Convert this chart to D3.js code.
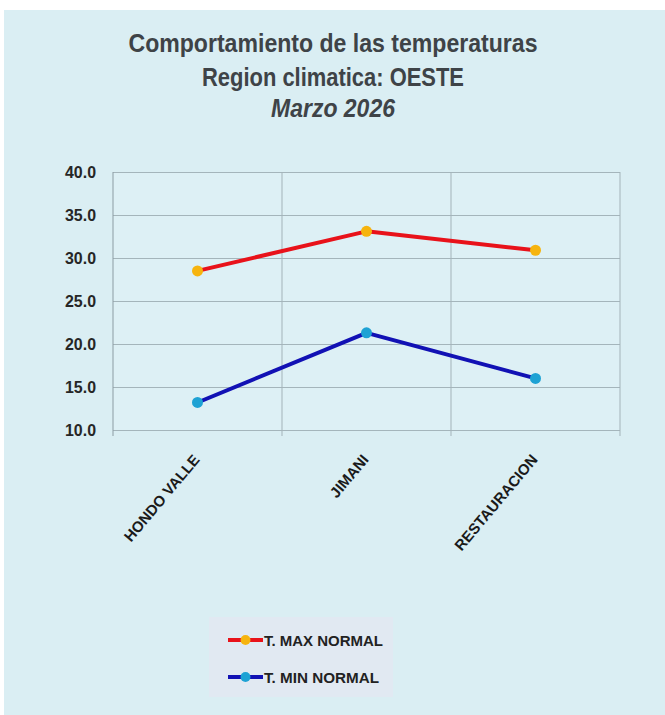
<!DOCTYPE html>
<meta charset="utf-8">
<script src="https://d3js.org/d3.v7.min.js"></script>
<style>
  body { margin: 0; background: #fff; }
  svg { display: block; }
  text { font-family: "Liberation Sans", Arial, sans-serif; }
</style>
<body>
<script>
"use strict"

// data
var stations = ["HONDO VALLE", "JIMANI", "RESTAURACION"]
var tMax = [28.5, 33.1, 30.9]
var tMin = [13.2, 21.3, 16.0]
var seriesNames = ["T. MAX NORMAL", "T. MIN NORMAL"]
var yTicks = [10, 15, 20, 25, 30, 35, 40]
var titleLines = ["Comportamiento de las temperaturas", "Region climatica: OESTE", "Marzo 2026"]

var W = 665, H = 715
var pLeft = 113, pRight = 620, pTop = 172, pBottom = 430

var svg = d3.select("body").append("svg")
    .attr("width", W)
    .attr("height", H)

// background panel
svg.append("rect")
    .attr("x", 4).attr("y", 10)
    .attr("width", W - 4).attr("height", H - 10)
    .attr("fill", "#daeef3")

svg.append("rect")
    .attr("x", pLeft).attr("y", pTop)
    .attr("width", pRight - pLeft).attr("height", pBottom - pTop)
    .attr("fill", "#ddf0f5")

// title (glyphs a bit taller than wide, as in the picture)
var titleWidths = [409, 262, 124]
var titleBase = [52, 86, 117]
var tt = svg.append("g").attr("fill", "#3e4347")
titleLines.forEach(function(t, i) {
    tt.append("text").attr("x", 333).attr("y", titleBase[i])
        .attr("text-anchor", "middle").attr("font-size", 26).attr("font-weight", "bold")
        .attr("font-style", i == 2 ? "italic" : "normal")
        .attr("textLength", titleWidths[i]).attr("lengthAdjust", "spacingAndGlyphs")
        .text(t)
})

var x = d3.scaleBand().domain(stations).range([pLeft, pRight])
var y = d3.scaleLinear().domain([10, 40]).range([pBottom, pTop])
var cx = function(d) { return x(d) + x.bandwidth() / 2 }

// horizontal gridlines
svg.append("g")
    .attr("transform", "translate(" + pLeft + ",0)")
    .call(d3.axisLeft(y).tickValues(yTicks).tickSize(-(pRight - pLeft)).tickFormat(""))
    .call(function(g) {
        g.select(".domain").remove()
        g.selectAll("line").attr("stroke", "#a4b5bb").attr("stroke-width", 1)
    })

// vertical gridlines on band edges
var edges = stations.map(function(d) { return x(d) }).concat([pRight])
svg.append("g").selectAll("line")
    .data(edges)
    .enter().append("line")
    .attr("x1", function(d) { return d }).attr("x2", function(d) { return d })
    .attr("y1", pTop).attr("y2", pBottom + 6)
    .attr("stroke", function(d, i) { return i == 0 ? "#8c9ca3" : "#a3b3b9" })
    .attr("stroke-width", 1)

// y labels
svg.append("g")
    .attr("transform", "translate(" + pLeft + ",0)")
    .call(d3.axisLeft(y).tickValues(yTicks).tickSize(0).tickPadding(17).tickFormat(d3.format(".1f")))
    .call(function(g) {
        g.select(".domain").remove()
        g.selectAll("text")
            .attr("font-family", "'Liberation Sans', Arial, sans-serif")
            .attr("font-size", 16).attr("font-weight", "bold").attr("fill", "#262626")
            .attr("textLength", 31).attr("lengthAdjust", "spacingAndGlyphs")
    })

// x labels
svg.append("g").selectAll("text")
    .data(stations)
    .enter().append("text")
    .attr("transform", function(d) { return "translate(" + (cx(d) + 3) + "," + 460 + ") rotate(-50)" })
    .attr("text-anchor", "end")
    .attr("font-size", 15).attr("font-weight", "bold").attr("fill", "#1a1a1a")
    .text(function(d) { return d })

// series
var series = [
    {name: seriesNames[0], values: tMax, line: "#e8121a", dot: "#f6b40e"},
    {name: seriesNames[1], values: tMin, line: "#1111b4", dot: "#1ea2d4"}
]

var line = d3.line()
    .x(function(d, i) { return cx(stations[i]) })
    .y(function(d) { return y(d) })

series.forEach(function(s) {
    svg.append("path")
        .datum(s.values)
        .attr("d", line)
        .attr("fill", "none")
        .attr("stroke", s.line)
        .attr("stroke-width", 4)
        .attr("stroke-linejoin", "round")
    svg.append("g").selectAll("circle")
        .data(s.values)
        .enter().append("circle")
        .attr("cx", function(d, i) { return cx(stations[i]) })
        .attr("cy", function(d) { return y(d) })
        .attr("r", 5.5)
        .attr("fill", s.dot)
})

// legend
var lg = svg.append("g")
lg.append("rect")
    .attr("x", 209).attr("y", 617)
    .attr("width", 184).attr("height", 80)
    .attr("fill", "#e1e9f2")

series.forEach(function(s, i) {
    var yy = 640 + i * 37
    lg.append("line")
        .attr("x1", 228).attr("x2", 263)
        .attr("y1", yy).attr("y2", yy)
        .attr("stroke", s.line).attr("stroke-width", 4)
    lg.append("circle")
        .attr("cx", 245.5).attr("cy", yy).attr("r", 5)
        .attr("fill", s.dot)
    lg.append("text")
        .attr("x", 264).attr("y", yy + 6)
        .attr("font-size", 15).attr("font-weight", "bold").attr("fill", "#222")
        .attr("textLength", i == 0 ? 119 : 115).attr("lengthAdjust", "spacingAndGlyphs")
        .text(s.name)
})
</script>
</body>
